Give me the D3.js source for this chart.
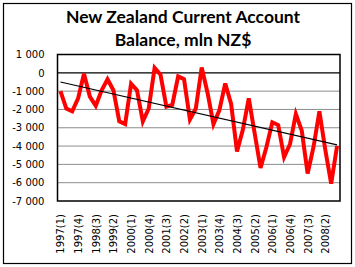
<!DOCTYPE html>
<html>
<head>
<meta charset="utf-8">
<script src="https://cdn.jsdelivr.net/npm/d3@7"></script>
<style>
  body { margin: 0; background: #fff; }
  svg { display: block; }
</style>
</head>
<body>
<svg width="355" height="267"></svg>
<script>
const quarters = [
  "1997(1)", "1997(2)", "1997(3)", "1997(4)",
  "1998(1)", "1998(2)", "1998(3)", "1998(4)",
  "1999(1)", "1999(2)", "1999(3)", "1999(4)",
  "2000(1)", "2000(2)", "2000(3)", "2000(4)",
  "2001(1)", "2001(2)", "2001(3)", "2001(4)",
  "2002(1)", "2002(2)", "2002(3)", "2002(4)",
  "2003(1)", "2003(2)", "2003(3)", "2003(4)",
  "2004(1)", "2004(2)", "2004(3)", "2004(4)",
  "2005(1)", "2005(2)", "2005(3)", "2005(4)",
  "2006(1)", "2006(2)", "2006(3)", "2006(4)",
  "2007(1)", "2007(2)", "2007(3)", "2007(4)",
  "2008(1)", "2008(2)", "2008(3)", "2008(4)"
];
const balance = [
  -1000, -1950, -2100, -1400, -50, -1300, -1800, -950,
  -350, -950, -2650, -2800, -600, -950, -2650, -1950,
  270, -100, -1850, -1750, -200, -350, -2550, -1950,
  290, -1100, -2800, -2050, -580, -1700, -4300, -3100,
  -1400, -3300, -5200, -4050, -2700, -2850, -4600, -3900,
  -2250, -3150, -5500, -4050, -2100, -4200, -6050, -4000
];
const yTicks = [1000, 0, -1000, -2000, -3000, -4000, -5000, -6000, -7000];
const shownLabels = quarters.filter((d, i) => i % 3 === 0);

const svg = d3.select("svg");
const plotL = 57.5, plotR = 340, plotT = 54.5, plotB = 201;

// outer chart frame
svg.append("rect")
  .attr("x", 3.5).attr("y", 3.5)
  .attr("width", 348).attr("height", 260)
  .attr("fill", "#fff").attr("stroke", "#000").attr("stroke-width", 1.2);

svg.append("text")
  .attr("x", 183).attr("text-anchor", "middle")
  .attr("font-family", "Lato, 'Open Sans', sans-serif")
  .attr("font-weight", "bold").attr("font-size", 17.5)
  .selectAll("tspan")
  .data(["New Zealand Current Account", "Balance, mln NZ$"])
  .join("tspan")
  .attr("x", 183)
  .attr("y", (d, i) => 22.5 + i * 23)
  .text((d) => d);

const x = d3.scalePoint().domain(quarters).range([plotL, plotR]).padding(0.5);
const y = d3.scaleLinear().domain([-7000, 1000]).range([plotB, plotT]);

const fmt = (v) => d3.format(",")(v).replace(",", " ").replace("−", "-");

// gridlines
svg.append("g")
  .selectAll("line")
  .data(yTicks.filter((v) => v !== 0 && v !== 1000 && v !== -7000))
  .join("line")
  .attr("x1", plotL).attr("x2", plotR)
  .attr("y1", (d) => y(d)).attr("y2", (d) => y(d))
  .attr("stroke", "#8c8c8c").attr("stroke-width", 1);

// y axis labels
const yAxis = svg.append("g")
  .attr("transform", `translate(${plotL},0)`)
  .call(d3.axisLeft(y).tickValues(yTicks).tickSize(0).tickPadding(13).tickFormat(fmt));
yAxis.select(".domain").remove();
yAxis.selectAll("text")
  .attr("font-family", "'DejaVu Sans', Verdana, sans-serif")
  .attr("font-size", 10).attr("fill", "#000");

// x axis labels
const xAxis = svg.append("g")
  .attr("transform", `translate(0,${plotB})`)
  .call(d3.axisBottom(x).tickValues(shownLabels).tickSize(0));
xAxis.select(".domain").remove();
xAxis.selectAll("text")
  .attr("font-family", "'DejaVu Sans', Verdana, sans-serif")
  .attr("font-size", 10).attr("fill", "#000")
  .attr("text-anchor", "end")
  .attr("transform", "rotate(-90)")
  .attr("x", -13).attr("y", 0).attr("dy", "0.35em");

// zero line
svg.append("line")
  .attr("x1", plotL).attr("x2", plotR)
  .attr("y1", y(0)).attr("y2", y(0))
  .attr("stroke", "#000").attr("stroke-width", 1.2);

// data line
svg.append("path")
  .datum(balance)
  .attr("fill", "none")
  .attr("stroke", "#ff0000").attr("stroke-width", 4)
  .attr("stroke-linejoin", "miter")
  .attr("d", d3.line().x((d, i) => x(quarters[i])).y((d) => y(d)));

// linear trend (least squares on the series)
const n = balance.length;
const xs = d3.range(n);
const mx = d3.mean(xs), my = d3.mean(balance);
const slope = d3.sum(xs, (i) => (i - mx) * (balance[i] - my)) / d3.sum(xs, (i) => (i - mx) ** 2);
const icpt = my - slope * mx;
svg.append("line")
  .attr("x1", x(quarters[0])).attr("y1", y(icpt))
  .attr("x2", x(quarters[n - 1])).attr("y2", y(icpt + slope * (n - 1)))
  .attr("stroke", "#000").attr("stroke-width", 1.2);

// plot frame
svg.append("rect")
  .attr("x", plotL).attr("y", plotT)
  .attr("width", plotR - plotL).attr("height", plotB - plotT)
  .attr("fill", "none").attr("stroke", "#000").attr("stroke-width", 1.5);
</script>
</body>
</html>
